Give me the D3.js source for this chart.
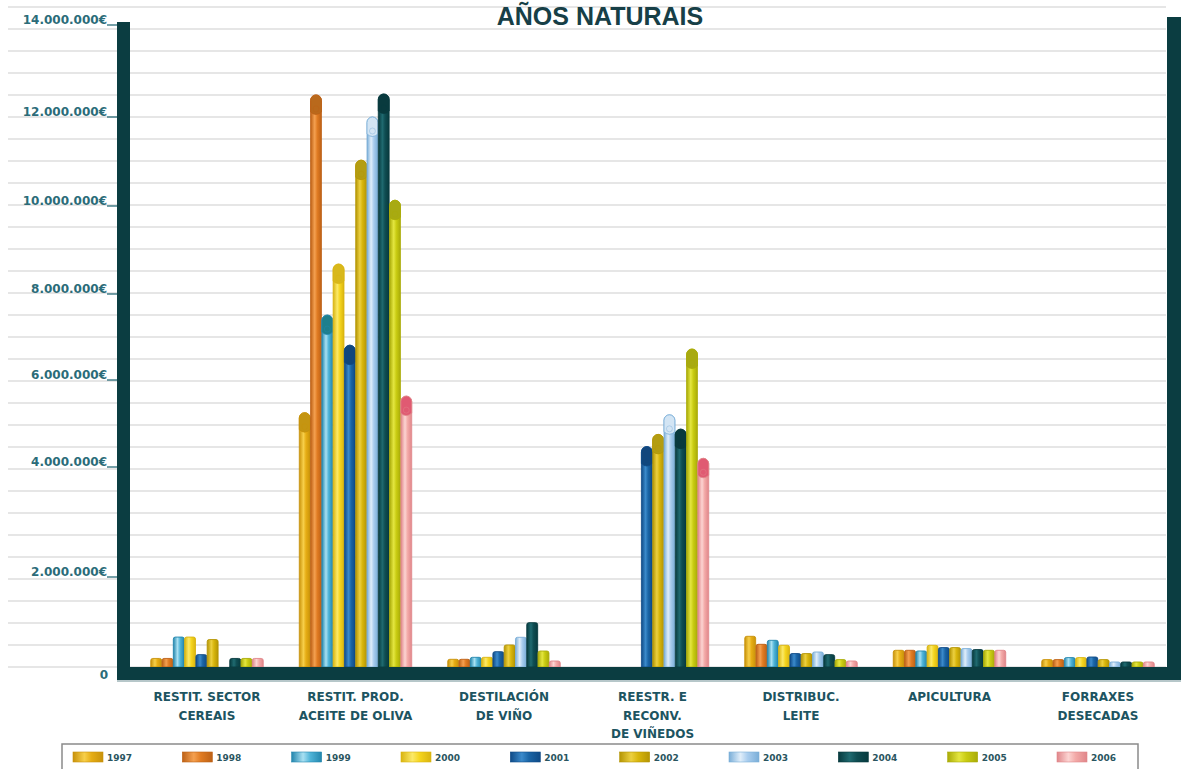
<!DOCTYPE html>
<html>
<head>
<meta charset="utf-8">
<script src="https://cdn.jsdelivr.net/npm/d3@7"></script>
<style>
  body { margin: 0; background: #ffffff; }
  svg { display: block; }
</style>
</head>
<body>
<svg id="chart" width="1186" height="769"></svg>
<script>
// ---- data ----
const categories = [
  "RESTIT. SECTOR|CEREAIS",
  "RESTIT. PROD.|ACEITE DE OLIVA",
  "DESTILACIÓN|DE VIÑO",
  "REESTR. E|RECONV.|DE VIÑEDOS",
  "DISTRIBUC.|LEITE",
  "APICULTURA",
  "FORRAXES|DESECADAS"
];
const years = ["1997", "1998", "1999", "2000", "2001", "2002", "2003", "2004", "2005", "2006"];

// euros per category, one array per year (null = no aid that year)
const s1997 = [190000, 5250000, 171000, null, 682000, 371000, 164000];
const s1998 = [190000, 12480000, 171000, null, 504000, 371000, 164000];
const s1999 = [665000, 7510000, 215000, null, 593000, 356000, 209000];
const s2000 = [665000, 8680000, 215000, null, 482000, 482000, 209000];
const s2001 = [275000, 6810000, 340000, 4470000, 298000, 431000, 222000];
const s2002 = [610000, 11030000, 489000, 4750000, 298000, 431000, 164000];
const s2003 = [null, 12000000, 660000, 5200000, 333000, 409000, 111000];
const s2004 = [190000, 12500000, 985000, 4870000, 275000, 387000, 111000];
const s2005 = [190000, 10130000, 355000, 6720000, 164000, 371000, 111000];
const s2006 = [190000, 5630000, 133000, 4200000, 133000, 371000, 111000];
const series = [s1997, s1998, s1999, s2000, s2001, s2002, s2003, s2004, s2005, s2006];

const yTickValues = [0, 2000000, 4000000, 6000000, 8000000, 10000000, 12000000, 14000000];
const yTickLabels = ["0", "2.000.000€", "4.000.000€", "6.000.000€", "8.000.000€", "10.000.000€", "12.000.000€", "14.000.000€"];

// palette per year: [edge, highlight, body, cap]
const palette = [
  ["#c8920a", "#f7cf4a", "#e6ad14", "#c49512"],
  ["#bd6116", "#f4a050", "#e07b22", "#b9691c"],
  ["#2386ad", "#a8e0f2", "#4fb4d8", "#1e7f8c"],
  ["#d9b410", "#fbe968", "#f5d51e", "#d8b81c"],
  ["#0f4a86", "#3b8acb", "#1a65a6", "#11467c"],
  ["#b49504", "#ecd040", "#d8b60c", "#b39d12"],
  ["#7aaed8", "#e0eefa", "#a9cdee", "#d3e5f4"],
  ["#073a3e", "#1f6a70", "#0f4d52", "#093a3e"],
  ["#a9ab08", "#e4e640", "#c9cc12", "#a8aa12"],
  ["#e0868a", "#fcd4d2", "#f3aaa8", "#e05a72"]
];

// ---- layout ----
const svg = d3.select("#chart");
const base = 667;
const dark = "#0b3d41";

const y = d3.scaleLinear()
  .domain(yTickValues)
  .range([667, 577, 467, 380, 294, 206, 117, 25]);

const x0 = d3.scaleBand()
  .domain(categories)
  .range([132.75, 1172.25])
  .paddingInner(0.24)
  .paddingOuter(0.12);

const x1 = d3.scaleBand()
  .domain(years)
  .range([0, x0.bandwidth()]);

// gradients
const defs = svg.append("defs");
palette.forEach((p, i) => {
  const g = defs.append("linearGradient")
    .attr("id", "g" + i)
    .attr("x1", "0").attr("x2", "1").attr("y1", "0").attr("y2", "0");
  g.append("stop").attr("offset", "0").attr("stop-color", p[0]);
  g.append("stop").attr("offset", "0.38").attr("stop-color", p[1]);
  g.append("stop").attr("offset", "0.62").attr("stop-color", p[2]);
  g.append("stop").attr("offset", "1").attr("stop-color", p[0]);
});

// horizontal rules
const gridStep = 22;
svg.append("g")
  .selectAll("line")
  .data(d3.range(base, 0, -gridStep))
  .join("line")
  .attr("x1", 8).attr("x2", 1166)
  .attr("y1", d => d).attr("y2", d => d)
  .attr("stroke", "#dedede")
  .attr("stroke-width", 1.6);

// title
svg.append("text")
  .attr("x", 600).attr("y", 25)
  .attr("text-anchor", "middle")
  .attr("font-family", "Liberation Sans, Arial, sans-serif")
  .attr("font-weight", "bold")
  .attr("font-size", 25)
  .attr("fill", "#173f47")
  .text("AÑOS NATURAIS");

// y axis labels
const yAxis = svg.append("g");
yTickValues.forEach((v, i) => {
  const ty = y(v);
  if (v === 0) {
    yAxis.append("text")
      .attr("x", 108).attr("y", ty + 12)
      .attr("text-anchor", "end")
      .attr("font-family", "DejaVu Sans, sans-serif")
      .attr("font-weight", "bold")
      .attr("font-size", 12)
      .attr("fill", "#2b6c79")
      .text(yTickLabels[i]);
  } else {
    yAxis.append("text")
      .attr("x", 107).attr("y", ty - 1.5)
      .attr("text-anchor", "end")
      .attr("font-family", "DejaVu Sans, sans-serif")
      .attr("font-weight", "bold")
      .attr("font-size", 12)
      .attr("fill", "#2b6c79")
      .text(yTickLabels[i]);
    yAxis.append("line")
      .attr("x1", 107).attr("x2", 118)
      .attr("y1", ty).attr("y2", ty)
      .attr("stroke", "#2b6c79").attr("stroke-width", 1.3);
  }
});

// bars
const barData = [];
categories.forEach((c, ci) => {
  years.forEach((yr, yi) => {
    const v = series[yi][ci];
    if (v != null) barData.push({ c, yr, yi, v });
  });
});

const bars = svg.append("g");
barData.forEach(d => {
  const w = x1.bandwidth() - 0.4;
  const bx = x0(d.c) + x1(d.yr) + 0.2;
  const top = y(d.v);
  const h = base - top;
  const p = palette[d.yi];
  const g = bars.append("g");
  if (h > 45) {
    const r = w / 2;
    g.append("path")
      .attr("d", `M${bx},${base} L${bx},${top + r} A${r},${r} 0 0 1 ${bx + w},${top + r} L${bx + w},${base} Z`)
      .attr("fill", `url(#g${d.yi})`)
      .attr("stroke", p[0]).attr("stroke-width", 0.8);
    const capH = 17;
    g.append("path")
      .attr("d", `M${bx},${top + r} A${r},${r} 0 0 1 ${bx + w},${top + r} L${bx + w},${top + capH} Q${bx + w / 2},${top + capH + 5} ${bx},${top + capH} Z`)
      .attr("fill", p[3])
      .attr("stroke", p[0]).attr("stroke-width", 0.8);
    g.append("ellipse")
      .attr("cx", bx + w / 2).attr("cy", top + capH - 3)
      .attr("rx", r * 0.55).attr("ry", 3)
      .attr("fill", "none")
      .attr("stroke", p[0]).attr("stroke-width", 0.6).attr("opacity", 0.7);
  } else {
    const r = 2;
    g.append("path")
      .attr("d", `M${bx},${base} L${bx},${top + r} Q${bx},${top} ${bx + r},${top} L${bx + w - r},${top} Q${bx + w},${top} ${bx + w},${top + r} L${bx + w},${base} Z`)
      .attr("fill", `url(#g${d.yi})`)
      .attr("stroke", p[0]).attr("stroke-width", 0.9);
  }
});

// frame: left post, right post, floor
svg.append("rect").attr("x", 117).attr("y", 22).attr("width", 13).attr("height", 658).attr("fill", dark);
svg.append("rect").attr("x", 1167).attr("y", 17).attr("width", 14).attr("height", 663).attr("fill", dark);
svg.append("rect").attr("x", 117).attr("y", base).attr("width", 1064).attr("height", 13).attr("fill", dark);
svg.append("line").attr("x1", 117).attr("x2", 1181).attr("y1", 681).attr("y2", 681)
  .attr("stroke", "#6f8f94").attr("stroke-width", 1);

// category labels
const catLabels = svg.append("g");
categories.forEach(c => {
  const cx = x0(c) + x0.bandwidth() / 2;
  c.split("|").forEach((line, li) => {
    catLabels.append("text")
      .attr("x", cx).attr("y", 701 + li * 18.5)
      .attr("text-anchor", "middle")
      .attr("font-family", "DejaVu Sans, sans-serif")
      .attr("font-weight", "bold")
      .attr("font-size", 12)
      .attr("fill", "#1d5461")
      .text(line);
  });
});

// legend
const legend = svg.append("g");
legend.append("rect")
  .attr("x", 62).attr("y", 744).attr("width", 1076).attr("height", 40)
  .attr("fill", "none").attr("stroke", "#8a8a8a").attr("stroke-width", 1.5);
const lx = d3.scalePoint().domain(years).range([73, 1057]);
years.forEach((yr, i) => {
  legend.append("rect")
    .attr("x", lx(yr)).attr("y", 752).attr("width", 30).attr("height", 10)
    .attr("fill", `url(#g${i})`)
    .attr("stroke", palette[i][0]).attr("stroke-width", 0.6);
  legend.append("text")
    .attr("x", lx(yr) + 34).attr("y", 761)
    .attr("font-family", "DejaVu Sans, sans-serif")
    .attr("font-weight", "bold")
    .attr("font-size", 9)
    .attr("fill", "#2a5560")
    .text(yr);
});
</script>
</body>
</html>
